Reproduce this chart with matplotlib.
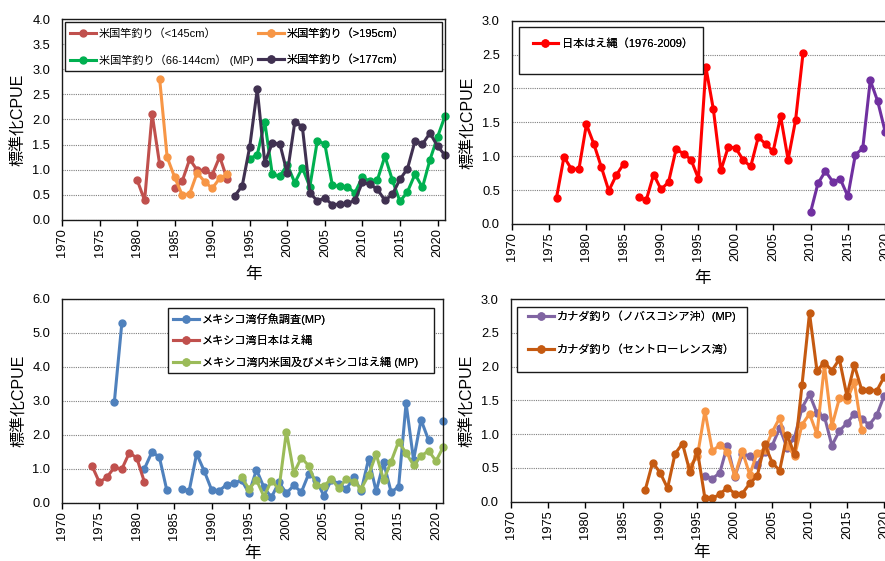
import numpy as np
import matplotlib
matplotlib.use('Agg')
import matplotlib.pyplot as plt
from matplotlib.patches import Rectangle
from matplotlib.lines import Line2D

plt.rcParams['font.family'] = ['Liberation Sans', 'Noto Sans CJK JP']

nan = np.nan

# ---- top left: US rod & reel indices ----
yr_us_small = np.arange(1980, 1993)
us_small = [0.80, 0.39, 2.11, 1.11, nan, 0.63, 0.77, 1.21, 0.99, 0.99, 0.90, 1.26, 0.81]
yr_us_giant = np.arange(1983, 1993)
us_giant = [2.81, 1.25, 0.85, 0.50, 0.52, 0.94, 0.76, 0.63, 0.83, 0.91]
yr_us_mp = np.arange(1995, 2022)
us_mp = [1.22, 1.30, 1.95, 0.91, 0.87, 1.10, 0.74, 1.04, 0.66, 1.58, 1.51, 0.69, 0.67,
         0.66, 0.54, 0.85, 0.77, 0.80, 1.27, 0.79, 0.37, 0.56, 0.91, 0.65, 1.20, 1.65, 2.07]
yr_us_large = np.arange(1993, 2022)
us_large = [0.48, 0.68, 1.46, 2.60, 1.14, 1.53, 1.52, 0.93, 1.95, 1.86, 0.54, 0.38, 0.44,
            0.30, 0.32, 0.33, 0.39, 0.75, 0.71, 0.61, 0.39, 0.51, 0.81, 1.02, 1.57, 1.51,
            1.73, 1.47, 1.29]

# ---- top right: Japanese longline ----
yr_jpn = np.arange(1976, 2010)
jpn_ll = [0.39, 0.99, 0.81, 0.81, 1.47, 1.18, 0.84, 0.49, 0.72, 0.89, nan, 0.40, 0.35,
          0.73, 0.51, 0.62, 1.10, 1.04, 0.95, 0.67, 2.31, 1.69, 0.79, 1.14, 1.12, 0.94,
          0.85, 1.28, 1.18, 1.07, 1.59, 0.95, 1.53, 2.52]
yr_jpn2 = np.arange(2010, 2021)
jpn_ll2 = [0.17, 0.60, 0.78, 0.62, 0.66, 0.41, 1.02, 1.12, 2.12, 1.81, 1.36]

# ---- bottom left: Gulf of Mexico ----
yr_gom_larv = np.arange(1977, 2022)
gom_larv = [2.97, 5.29, nan, nan, 0.99, 1.48, 1.36, 0.38, nan, 0.40, 0.35, 1.44, 0.94,
            0.38, 0.35, 0.53, 0.57, 0.67, 0.28, 0.97, 0.45, 0.16, 0.60, 0.28, 0.51, 0.31,
            0.86, 0.66, 0.21, 0.67, 0.56, 0.39, 0.75, 0.35, 1.30, 0.33, 1.19, 0.31, 0.47,
            2.93, 1.26, 2.44, 1.85, nan, 2.41]
yr_gom_jpn = np.arange(1974, 1982)
gom_jpn = [1.09, 0.60, 0.75, 1.04, 0.99, 1.47, 1.32, 0.62]
yr_gom_ll = np.arange(1994, 2022)
gom_ll = [0.76, 0.40, 0.67, 0.18, 0.65, 0.40, 2.09, 0.87, 1.33, 1.08, 0.53, 0.48, 0.71,
          0.42, 0.70, 0.62, 0.41, 0.82, 1.43, 0.67, 1.21, 1.80, 1.46, 1.11, 1.37, 1.53,
          1.23, 1.65]

# ---- bottom right: Canada ----
yr_can_ns = np.arange(1996, 2021)
can_ns = [0.38, 0.34, 0.43, 0.83, 0.37, 0.70, 0.68, 0.55, 0.74, 0.83, 1.09, 0.80, 0.95,
          1.39, 1.59, 1.31, 1.26, 0.83, 1.05, 1.16, 1.30, 1.22, 1.14, 1.28, 1.57]
yr_can_gsl = np.arange(1988, 2021)
can_gsl = [0.17, 0.58, 0.43, 0.20, 0.71, 0.86, 0.44, 0.75, 0.05, 0.05, 0.11, 0.21, 0.12,
           0.12, 0.27, 0.38, 0.85, 0.58, 0.46, 0.99, 0.70, 1.73, 2.79, 1.94, 2.06, 1.94,
           2.11, 1.57, 2.02, 1.65, 1.66, 1.64, 1.85]
yr_can_other = np.arange(1994, 2018)
can_other = [0.52, 0.68, 1.34, 0.75, 0.84, 0.74, 0.38, 0.75, 0.40, 0.72, 0.77, 1.03, 1.24,
             0.83, 0.68, 1.14, 1.30, 1.00, 2.02, 1.12, 1.53, 1.50, 1.77, 1.06]

W, H = 885, 561
fig = plt.figure(figsize=(W / 100, H / 100), dpi=100)


def frac(x, y):
    return x / W, 1 - y / H


def panel(l, t, b, ymax, ystep, ppy, xlab_y=-0.232):
    r = l + 51 * ppy
    ax = fig.add_axes([l / W, 1 - b / H, (r - l) / W, (b - t) / H])
    ax.set_xlim(1970, 2021)
    ax.set_ylim(0, ymax)
    ax.set_xticks(np.arange(1970, 2021, 5))
    ax.set_yticks(np.arange(0, ymax + 1e-9, ystep))
    ax.yaxis.set_major_formatter('{x:.1f}')
    ax.tick_params(axis='x', labelrotation=90, length=4, width=1, labelsize=9.3, pad=2)
    ax.tick_params(axis='y', length=0, labelsize=9.3, pad=8.5)
    ax.grid(axis='y', color='#7f7f7f', ls=(0, (1, 1)), lw=0.8)
    ax.set_axisbelow(True)
    for s in ax.spines.values():
        s.set_color('#1a1a1a')
        s.set_linewidth(1.0)
    ax.set_ylabel('標準化CPUE', fontsize=11.5)
    ax.yaxis.set_label_coords(-0.092, 0.5)
    ax.set_xlabel('年', fontsize=12)
    ax.xaxis.set_label_coords(0.5, xlab_y)
    return ax


def series(ax, x, y, c):
    ax.plot(x, y, color=c, lw=2.2, marker='o', ms=5, clip_on=False)


def handle(c):
    return Line2D([], [], color=c, lw=2.2, marker='o', ms=5)


def legend_box(ax, x0, y0, x1, y1):
    fx0, fy1 = frac(x0, y0)
    fx1, fy0 = frac(x1, y1)
    ax.add_patch(Rectangle((fx0, fy0), fx1 - fx0, fy1 - fy0, transform=fig.transFigure,
                           facecolor='white', edgecolor='#1a1a1a', lw=1.0, zorder=4))


def legend(ax, hs, labels, x, y, spacing):
    lg = ax.legend(hs, labels, loc='upper left', bbox_to_anchor=frac(x, y),
                   bbox_transform=fig.transFigure, frameon=False, borderpad=0,
                   borderaxespad=0, handlelength=2.3, handletextpad=0.3,
                   labelspacing=spacing, fontsize=8)
    ax.add_artist(lg)


C_SMALL, C_GIANT, C_MP, C_LARGE = '#C0504D', '#F79646', '#00B050', '#403151'

# top left
ax1 = panel(62, 19, 220, 4.0, 0.5, 7.51)
series(ax1, yr_us_small, us_small, C_SMALL)
series(ax1, yr_us_giant, us_giant, C_GIANT)
series(ax1, yr_us_mp, us_mp, C_MP)
series(ax1, yr_us_large, us_large, C_LARGE)
legend_box(ax1, 65, 21.7, 441.7, 71)
legend(ax1, [handle(C_SMALL), handle(C_MP)],
       ['米国竿釣り（<145cm）', '米国竿釣り（66-144cm） (MP)'], 70, 28, 1.45)
legend(ax1, [handle(C_GIANT), handle(C_LARGE)],
       ['米国竿釣り（>195cm）', '米国竿釣り（>177cm）'], 258, 28, 1.45)

# top right
ax2 = panel(511.7, 20.7, 224, 3.0, 0.5, 7.47)
series(ax2, yr_jpn, jpn_ll, '#FF0000')
series(ax2, yr_jpn2, jpn_ll2, '#7030A0')
legend_box(ax2, 519, 26.7, 703, 74)
legend(ax2, [handle('#FF0000')], ['日本はえ縄（1976-2009）'], 532.7, 38, 1.0)

# bottom left
ax3 = panel(62, 299, 502.7, 6.0, 1.0, 7.48, xlab_y=-0.212)
series(ax3, yr_gom_larv, gom_larv, '#4F81BD')
series(ax3, yr_gom_jpn, gom_jpn, '#C0504D')
series(ax3, yr_gom_ll, gom_ll, '#9BBB59')
legend_box(ax3, 167.7, 307.7, 434, 372.7)
legend(ax3, [handle('#4F81BD'), handle('#C0504D'), handle('#9BBB59')],
       ['メキシコ湾仔魚調査(MP)', 'メキシコ湾日本はえ縄', 'メキシコ湾内米国及びメキシコはえ縄 (MP)'],
       173, 313, 0.95)

# bottom right
ax4 = panel(510.7, 299, 501.7, 3.0, 0.5, 7.47, xlab_y=-0.212)
series(ax4, yr_can_ns, can_ns, '#8064A2')
series(ax4, yr_can_other, can_other, '#F79646')
series(ax4, yr_can_gsl, can_gsl, '#C55A11')
legend_box(ax4, 516.7, 306.7, 746.7, 371.7)
legend(ax4, [handle('#8064A2'), handle('#C55A11')],
       ['カナダ釣り（ノバスコシア沖）(MP)', 'カナダ釣り（セントローレンス湾）'], 528, 310, 2.05)

fig.savefig('out.png', dpi=100)
